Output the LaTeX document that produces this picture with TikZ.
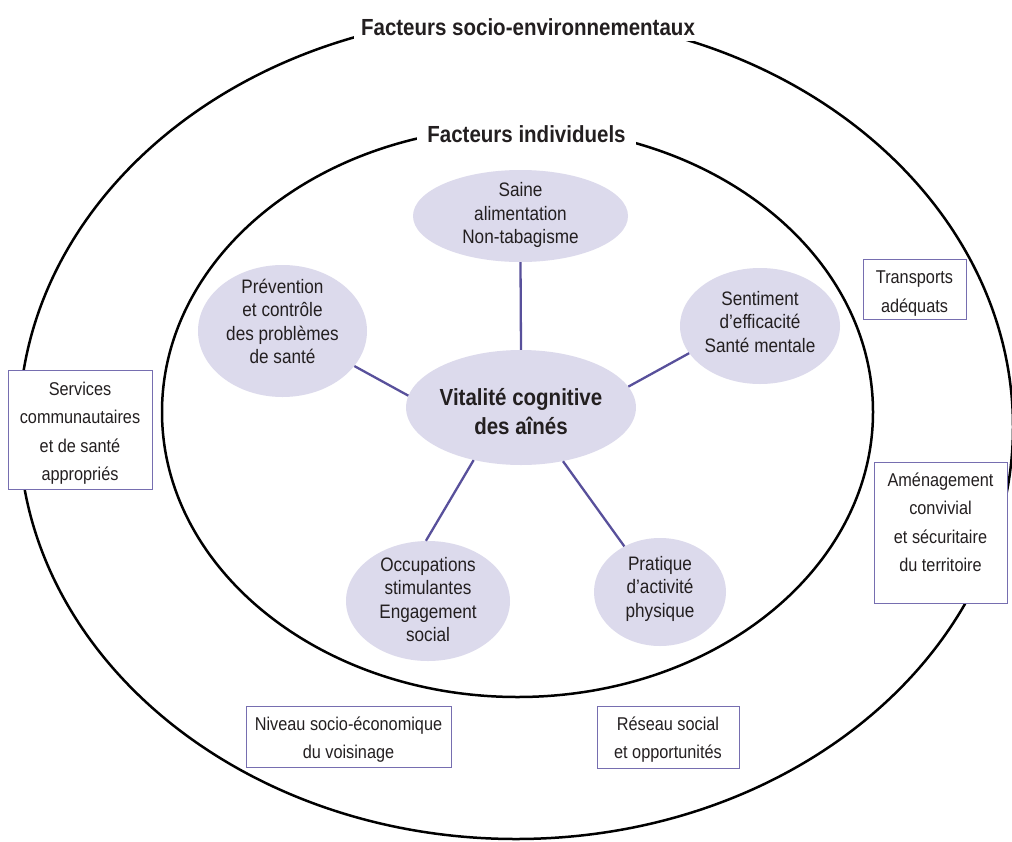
\documentclass[tikz,border=0pt]{standalone}
\usepackage{fontspec}
\setmainfont{Liberation Sans}[FakeStretch=0.88]
\usetikzlibrary{shapes.geometric}
\definecolor{bubfill}{RGB}{220,218,236}
\definecolor{connc}{RGB}{88,80,155}
\definecolor{boxc}{RGB}{118,110,176}
\definecolor{textc}{RGB}{35,31,32}
\newcommand\bubfont{\fontsize{19.5}{23.5}\selectfont}
\newcommand\boxfont{\fontsize{18.5}{28.5}\selectfont}
\newcommand\ctrfont{\fontsize{23.3}{29.5}\selectfont\bfseries}
\newcommand\titfont{\fontsize{23.3}{28}\selectfont\bfseries}
\newcommand\tlines[2]{\raisebox{#1}[0pt][0pt]{\begin{tabular}{@{}c@{}}#2\end{tabular}}}
\tikzset{
  ring/.style={draw=black, line width=2.5pt},
  bubble/.style={ellipse, fill=bubfill, inner sep=0pt, font=\bubfont, text=textc},
  center/.style={ellipse, fill=bubfill, inner sep=0pt, font=\ctrfont, text=textc},
  infobox/.style={rectangle, draw=boxc, line width=0.9pt, fill=white, inner sep=0pt, font=\boxfont, text=textc},
  conn/.style={draw=connc, line width=2.3pt},
  titlelab/.style={fill=white, inner ysep=6pt, font=\titfont, text=textc}
}
\begin{document}
\begin{tikzpicture}[x=1pt,y=-1pt]
\clip (0,0) rectangle (1012,841);
\useasboundingbox (0,0) rectangle (1012,841);
\fill[white] (0,0) rectangle (1012,841);
% rings
\draw[ring] (516,427) ellipse [x radius=497pt, y radius=412pt];
\draw[ring] (517.5,412) ellipse [x radius=355.5pt, y radius=285pt];
% titles
\node[titlelab, inner xsep=7pt, anchor=base] (touter) at (528,35) {Facteurs socio-environnementaux};
\node[titlelab, inner xsep=10pt, anchor=base] (tinner) at (526.5,142) {Facteurs individuels};
% bubbles
\node[center, minimum width=228pt, minimum height=115pt] (c) at (521,407.5)
  {\tlines{-12.6pt}{Vitalité cognitive\\des aînés}};
\node[bubble, minimum width=215pt, minimum height=92pt] (saine) at (520.5,216)
  {\tlines{-4.7pt}{Saine\\alimentation\\Non-tabagisme}};
\node[bubble, minimum width=169pt, minimum height=132pt] (prev) at (282.5,331)
  {\tlines{1.8pt}{Prévention\\et contrôle\\des problèmes\\de santé}};
\node[bubble, minimum width=160pt, minimum height=116pt] (sent) at (760,326)
  {\tlines{-3.2pt}{Sentiment\\d’efficacité\\Santé mentale}};
\node[bubble, minimum width=164pt, minimum height=120pt] (occ) at (428,601)
  {\tlines{-6.2pt}{Occupations\\stimulantes\\Engagement\\social}};
\node[bubble, minimum width=132pt, minimum height=108pt] (prat) at (660,592)
  {\tlines{-2.2pt}{Pratique\\d’activité\\physique}};
% connectors
\draw[conn] (c.90) -- (saine.270);
\draw[conn] (c.174) -- (prev.-26);
\draw[conn] (c.11) -- (sent.201);
\draw[conn] (c.228) -- (occ.92);
\draw[conn] (c.-52) -- (prat.128);
% boxes
\node[infobox, minimum width=103pt, minimum height=60pt] (trans) at (914.5,289)
  {\tlines{-7.5pt}{Transports\\adéquats}};
\node[infobox, minimum width=144pt, minimum height=119pt] (serv) at (80,429.5)
  {\tlines{-7pt}{Services\\communautaires\\et de santé\\appropriés}};
\node[infobox, minimum width=133pt, minimum height=141pt] (amen) at (940.5,532.5)
  {\tlines{5pt}{Aménagement\\convivial\\et sécuritaire\\du territoire}};
\node[infobox, minimum width=205pt, minimum height=61pt] (niv) at (348.5,737)
  {\tlines{-6pt}{Niveau socio-économique\\du voisinage}};
\node[infobox, minimum width=142pt, minimum height=62pt] (res) at (668,737)
  {\tlines{-6pt}{Réseau social\\et opportunités}};
\end{tikzpicture}
\end{document}
